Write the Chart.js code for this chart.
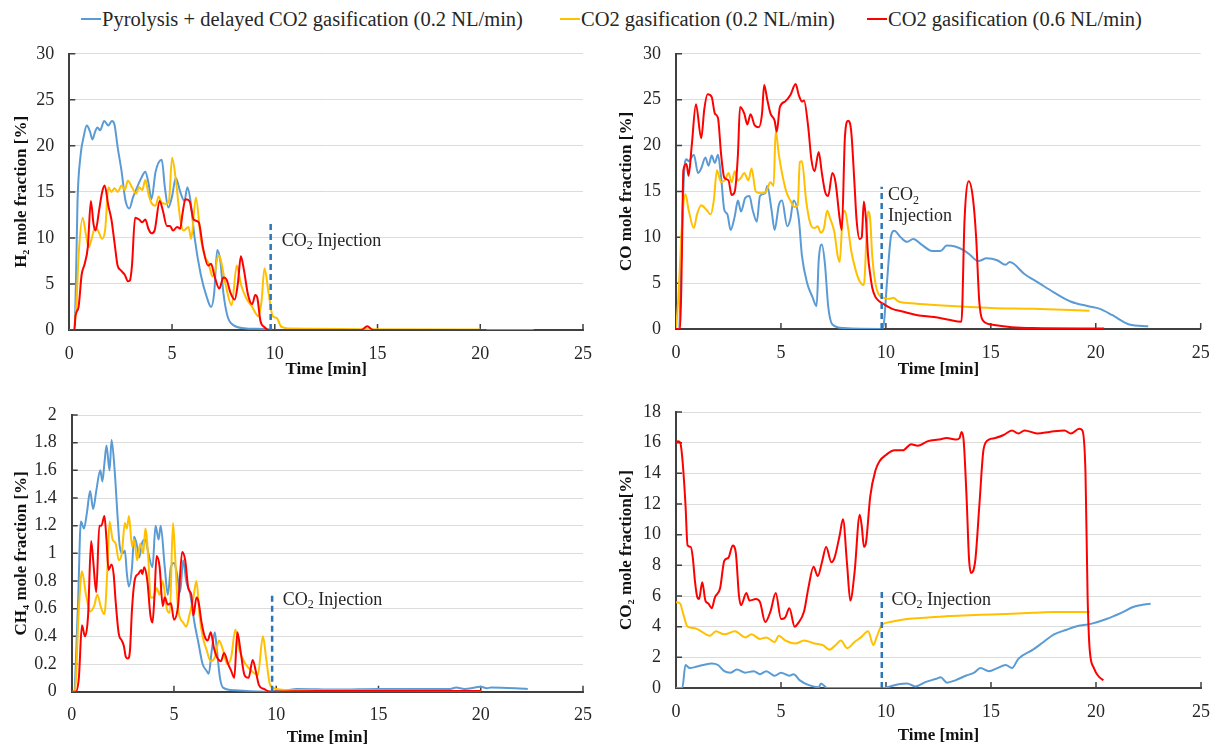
<!DOCTYPE html>
<html>
<head>
<meta charset="utf-8">
<script src="https://cdn.jsdelivr.net/npm/chart.js@4/dist/chart.umd.min.js"></script>
<style>
  html, body { margin: 0; padding: 0; background: #fff; }
  body { width: 1223px; height: 751px; position: relative; overflow: hidden;
         font-family: "Liberation Serif", "Times New Roman", serif; }
  canvas { position: absolute; }
  .key { position: absolute; top: 6px; height: 26px; display: flex; align-items: center;
         font-size: 20.5px; color: #262626; white-space: nowrap; }
  .key i { display: inline-block; width: 20px; height: 2px; margin-right: 1px; }
</style>
</head>
<body>
<div class="key" style="left:81px"><i style="background:#5B9BD5"></i>Pyrolysis + delayed CO2 gasification (0.2 NL/min)</div>
<div class="key" style="left:560px"><i style="background:#FFC000"></i>CO2 gasification (0.2 NL/min)</div>
<div class="key" style="left:867px"><i style="background:#FF0000"></i>CO2 gasification (0.6 NL/min)</div>

<canvas id="h2"></canvas>
<canvas id="co"></canvas>
<canvas id="ch4"></canvas>
<canvas id="co2"></canvas>

<script>
// ---- Series: [time (min), mole fraction (%)] ----
const seriesNames = [
  'Pyrolysis + delayed CO2 gasification (0.2 NL/min)',
  'CO2 gasification (0.2 NL/min)',
  'CO2 gasification (0.6 NL/min)'
];
const timeTicks = [0, 5, 10, 15, 20, 25];
const injectionTime = 9.8;

// H2
const h2Pyrolysis = [[0,0],[0.25,0],[0.32,5],[0.4,14],[0.55,19],[0.7,21],[0.85,22.2],[1.0,21.6],[1.13,20.7],[1.25,21.5],[1.37,22.0],[1.5,21.7],[1.7,22.7],[1.9,22.2],[2.07,22.7],[2.2,22.3],[2.35,19.9],[2.54,17.3],[2.73,14.1],[2.92,13.2],[3.1,14.4],[3.3,15.5],[3.5,16.5],[3.7,17.2],[3.85,16],[4.0,14.2],[4.2,17.2],[4.5,18.5],[4.65,15.5],[4.82,13.3],[5.0,14.5],[5.18,16.5],[5.4,15],[5.6,14],[5.75,15.5],[5.9,14],[6.1,10],[6.4,6],[6.7,3.5],[6.9,2.5],[7.05,4],[7.2,8.7],[7.35,7.5],[7.5,4],[7.7,1.5],[8.0,0.5],[8.5,0.2],[9.5,0.1],[10,0],[22.6,0]];
const h2Low = [[0,0],[0.2,0],[0.35,3],[0.45,8],[0.65,12.2],[0.8,10.5],[0.94,9.0],[1.1,10],[1.25,11.2],[1.4,10.8],[1.6,9.9],[1.75,11],[1.9,15.5],[2.05,15],[2.2,15.4],[2.35,15],[2.55,15.7],[2.7,15.2],[2.85,16.2],[3.05,15.5],[3.25,14.8],[3.4,15.5],[3.55,15.2],[3.7,16.3],[3.85,14.8],[4.0,13.8],[4.2,13.5],[4.35,14.5],[4.5,13.8],[4.7,13.7],[4.85,14],[5.0,18.7],[5.2,16],[5.4,12],[5.56,10.8],[5.8,11.2],[5.93,9.9],[6.16,14.4],[6.4,9.9],[6.6,8],[6.78,7.2],[6.97,5.8],[7.1,6.5],[7.25,8.1],[7.35,7.8],[7.6,5],[7.9,2.7],[8.15,7],[8.35,5],[8.6,3.5],[8.9,2.5],[9.2,1.5],[9.35,3],[9.5,6.7],[9.7,4],[9.9,1.5],[10.1,1.3],[10.3,0.4],[10.8,0.15],[20,0.05]];
const h2High = [[0,0],[0.25,0],[0.3,1.5],[0.45,2.5],[0.6,6],[0.75,7.2],[0.9,9],[1.05,14],[1.18,11.5],[1.28,10.8],[1.45,13],[1.6,15],[1.72,15.7],[1.9,13.5],[2.05,12],[2.2,9.5],[2.35,7],[2.5,6.5],[2.7,6],[2.85,5.3],[2.95,5.4],[3.05,7],[3.2,12.2],[3.4,12],[3.55,11.7],[3.7,12],[3.85,11],[4.0,10.5],[4.15,10.8],[4.4,14],[4.55,13],[4.75,11.3],[4.9,11.3],[5.05,10.8],[5.25,11.2],[5.4,11],[5.5,12.5],[5.65,14.2],[5.85,14],[6.05,12],[6.3,11.7],[6.5,9],[6.75,7],[6.9,7.2],[7.05,6],[7.3,4.5],[7.5,5.7],[7.65,5.5],[7.85,4],[8.05,3.3],[8.2,5],[8.35,8],[8.5,6.5],[8.7,3.8],[8.9,2.8],[9.05,3.8],[9.15,3.5],[9.3,1],[9.5,0.3],[9.7,0],[14.2,0],[14.5,0.4],[14.8,0],[20.3,0]];

// CO
const coPyrolysis = [[0,0],[0.15,0],[0.25,8],[0.4,17.5],[0.5,18.5],[0.6,18.3],[0.85,19],[1.05,17],[1.2,17.5],[1.4,18.7],[1.55,17.8],[1.7,18.9],[1.85,18.1],[2.0,19],[2.15,16.5],[2.3,13],[2.45,12.5],[2.6,10.8],[2.8,12.3],[2.95,14],[3.1,12.8],[3.3,14.3],[3.5,14.5],[3.65,13],[3.85,11.7],[4.0,14.5],[4.25,14.8],[4.35,15.6],[4.55,13],[4.7,10.8],[4.9,13.5],[5.05,14],[5.3,11.2],[5.45,12],[5.6,14],[5.85,12],[6.0,8],[6.25,5],[6.5,3.5],[6.7,2.5],[6.8,7.5],[6.95,9.2],[7.1,7],[7.25,2.5],[7.45,0.5],[8.0,0.1],[9.8,0],[9.9,0.5],[10.05,5],[10.25,10.2],[10.4,10.7],[10.7,10],[11.0,9.5],[11.3,9.8],[11.7,9.2],[12.2,8.5],[12.6,8.5],[12.9,9.1],[13.3,9],[13.7,8.6],[14.0,8.1],[14.4,7.4],[14.8,7.7],[15.3,7.5],[15.7,7],[15.9,7.3],[16.6,6],[17.3,5],[18.0,4],[18.8,3],[19.6,2.5],[20.2,2.2],[20.8,1.5],[21.6,0.5],[22.5,0.3]];
const coLow = [[0,0],[0.1,3],[0.18,6.5],[0.3,12],[0.45,14.7],[0.6,13],[0.85,11],[1.0,12.5],[1.2,13.5],[1.45,13],[1.65,12.5],[1.8,14],[1.95,17.3],[2.15,16],[2.35,16.3],[2.5,17],[2.65,16],[2.8,17.2],[2.95,16.2],[3.1,16.5],[3.25,17],[3.45,16.2],[3.6,17.5],[3.8,15],[4.1,14.8],[4.3,15],[4.5,16],[4.65,15.6],[4.75,21.6],[4.9,19],[5.05,17],[5.25,15],[5.45,14],[5.65,13.3],[5.8,13.5],[5.9,18.2],[6.0,18.3],[6.2,14],[6.4,11.5],[6.6,11],[6.75,11.2],[6.9,10.5],[7.05,11],[7.2,12.9],[7.35,12],[7.55,10.5],[7.7,8],[7.8,7.3],[7.95,12.5],[8.05,12.9],[8.2,11],[8.35,8.5],[8.55,6.5],[8.75,5.2],[8.95,4.8],[9.15,12.8],[9.25,12],[9.35,8],[9.5,5],[9.65,3.8],[9.9,3.4],[10.2,3.3],[10.35,3.4],[10.6,3],[11.2,2.8],[12.5,2.6],[14,2.4],[15,2.3],[17,2.2],[19.7,2.0]];
const coHigh = [[0,0],[0.2,0],[0.28,8],[0.35,17.3],[0.5,18],[0.6,16.7],[0.75,20],[0.95,24.5],[1.2,20.8],[1.35,24],[1.5,25.6],[1.7,25.3],[1.85,23.5],[2.0,23],[2.15,19],[2.3,16.5],[2.5,16.2],[2.65,14.6],[2.8,15],[2.95,19],[3.05,24.2],[3.25,23.5],[3.4,22.3],[3.55,23.4],[3.75,22.2],[3.95,22],[4.1,23.5],[4.2,26.6],[4.35,25],[4.5,23.5],[4.7,22.7],[4.8,21.5],[4.95,24.2],[5.2,24.8],[5.45,25.5],[5.7,26.7],[5.85,25.5],[6.0,24.8],[6.1,24.9],[6.3,22],[6.45,18.5],[6.6,17.2],[6.8,19.3],[6.95,17],[7.1,15],[7.25,14.5],[7.45,17],[7.6,16],[7.8,12],[7.9,10.8],[8.05,21],[8.2,22.7],[8.35,21.5],[8.5,16],[8.6,12],[8.75,9.8],[8.85,10],[8.95,13.9],[9.05,12],[9.15,8],[9.25,6],[9.35,4.5],[9.5,3.5],[9.7,3],[9.9,2.7],[10.3,2.2],[10.8,1.9],[11.5,1.5],[12.3,1.3],[13.0,1.0],[13.6,0.8],[13.75,12],[13.95,16.1],[14.15,14.2],[14.3,10],[14.45,3],[14.6,1],[15.0,0.5],[16,0.2],[17,0.1],[20.4,0.05]];

// CH4
const ch4Pyrolysis = [[0,0],[0.1,0],[0.3,0.6],[0.45,1.23],[0.6,1.18],[0.75,1.3],[0.9,1.45],[1.05,1.32],[1.2,1.45],[1.4,1.6],[1.5,1.52],[1.6,1.65],[1.7,1.78],[1.85,1.6],[1.95,1.82],[2.1,1.6],[2.25,1.25],[2.35,1.05],[2.5,1.0],[2.6,1.02],[2.7,0.85],[2.8,0.76],[2.95,0.9],[3.05,1.12],[3.2,1.05],[3.3,0.97],[3.45,1.08],[3.6,1.1],[3.75,1.0],[3.95,0.9],[4.1,1.2],[4.25,1.1],[4.35,1.2],[4.55,0.9],[4.7,0.7],[4.85,0.9],[5.0,0.93],[5.15,0.85],[5.3,0.72],[5.45,0.95],[5.6,0.8],[5.8,0.7],[6.0,0.5],[6.2,0.35],[6.4,0.2],[6.6,0.15],[6.7,0.13],[6.85,0.3],[7.0,0.43],[7.1,0.3],[7.25,0.1],[7.4,0.03],[8,0.01],[9.5,0],[10.5,0.01],[11,0.02],[13,0.015],[15,0.02],[18.5,0.02],[18.8,0.03],[19.2,0.02],[20.0,0.035],[20.3,0.025],[20.5,0.03],[22.3,0.02]];
const ch4Low = [[0,0],[0.15,0],[0.35,0.6],[0.5,0.87],[0.7,0.7],[0.9,0.58],[1.1,0.62],[1.25,0.7],[1.45,0.6],[1.6,0.56],[1.75,0.9],[1.85,1.23],[2.0,1.1],[2.15,1.07],[2.3,0.95],[2.45,1.0],[2.6,1.22],[2.7,1.18],[2.8,1.27],[2.95,1.05],[3.05,1.1],[3.2,0.95],[3.35,1.07],[3.5,1.0],[3.6,1.18],[3.75,0.95],[3.85,0.68],[4.0,0.68],[4.15,0.75],[4.3,0.7],[4.45,0.8],[4.65,0.6],[4.8,0.57],[4.95,1.22],[5.05,1.0],[5.2,0.6],[5.45,0.5],[5.6,0.47],[5.75,0.55],[5.95,0.68],[6.1,0.8],[6.25,0.55],[6.4,0.4],[6.6,0.3],[6.8,0.22],[7.0,0.25],[7.2,0.37],[7.4,0.3],[7.6,0.2],[7.8,0.25],[8.0,0.45],[8.2,0.3],[8.5,0.2],[8.8,0.15],[9.1,0.12],[9.35,0.4],[9.5,0.25],[9.7,0.05],[10,0.02],[11,0.01],[20,0.005]];
const ch4High = [[0,0],[0.2,0],[0.35,0.1],[0.5,0.48],[0.65,0.4],[0.8,0.55],[0.95,1.09],[1.05,0.95],[1.2,0.72],[1.35,1.2],[1.45,1.2],[1.6,1.27],[1.7,1.1],[1.8,0.88],[1.95,0.92],[2.05,0.85],[2.15,0.65],[2.3,0.42],[2.45,0.37],[2.55,0.33],[2.65,0.25],[2.75,0.24],[2.85,0.3],[2.95,0.6],[3.1,0.82],[3.25,0.85],[3.4,0.88],[3.45,0.85],[3.55,0.9],[3.7,0.8],[3.85,0.55],[3.95,0.5],[4.05,0.7],[4.15,0.98],[4.3,0.9],[4.45,0.62],[4.55,0.68],[4.7,0.63],[4.85,0.64],[5.0,0.52],[5.2,0.62],[5.4,1.01],[5.55,0.95],[5.7,0.75],[5.85,0.7],[5.95,0.55],[6.1,0.68],[6.2,0.65],[6.35,0.5],[6.5,0.4],[6.65,0.37],[6.8,0.43],[6.95,0.32],[7.1,0.25],[7.3,0.22],[7.45,0.28],[7.65,0.2],[7.8,0.15],[7.95,0.1],[8.1,0.43],[8.25,0.3],[8.45,0.12],[8.65,0.1],[8.85,0.23],[9.0,0.15],[9.15,0.05],[9.4,0.02],[9.7,0],[12,0.005],[20,0.005]];

// CO2
const co2Pyrolysis = [[0,0],[0.3,0],[0.45,1.5],[0.65,1.3],[1.0,1.4],[1.3,1.5],[1.7,1.6],[2.0,1.5],[2.3,1.1],[2.6,1.0],[2.9,1.2],[3.3,1.0],[3.7,1.1],[4.0,0.9],[4.3,1.1],[4.7,0.8],[5.0,1.0],[5.4,0.8],[5.6,0.9],[5.9,0.5],[6.3,0.2],[6.8,0.05],[6.9,0.3],[7.2,0],[9.9,0],[10.2,0.1],[10.6,0.25],[11.0,0.3],[11.4,0.1],[11.9,0.4],[12.4,0.6],[12.6,0.7],[12.9,0.35],[13.3,0.5],[13.8,0.8],[14.2,1.0],[14.5,1.3],[14.9,1.1],[15.3,1.3],[15.7,1.5],[16.0,1.3],[16.3,1.9],[17.0,2.5],[17.5,3.0],[18.0,3.5],[18.6,3.8],[19.0,4.0],[19.8,4.2],[20.5,4.5],[21.2,4.9],[21.8,5.3],[22.3,5.45],[22.6,5.5]];
const co2Low = [[0,5.6],[0.2,5.5],[0.35,4.8],[0.55,4],[0.9,3.9],[1.2,3.7],[1.6,3.4],[1.9,3.7],[2.3,3.5],[2.8,3.7],[3.3,3.3],[3.6,3.5],[4.0,3.2],[4.3,3.3],[4.7,3.0],[4.9,3.4],[5.2,3.1],[5.7,2.9],[6.1,3.1],[6.6,2.9],[7.0,2.8],[7.3,2.5],[7.6,2.8],[7.85,3.1],[8.15,2.6],[8.5,3.0],[8.8,3.3],[9.15,3.7],[9.4,2.8],[9.55,3.3],[9.8,4.1],[10.2,4.3],[11,4.5],[12,4.6],[13,4.7],[14,4.75],[15,4.8],[16,4.85],[17,4.9],[18,4.95],[19.7,4.95]];
const co2High = [[0,16],[0.1,16.1],[0.2,16],[0.3,15],[0.45,12],[0.55,9.3],[0.7,9.2],[0.8,8.5],[0.9,7],[1.0,6],[1.1,5.8],[1.25,6.9],[1.4,5.7],[1.55,5.5],[1.7,5.2],[1.85,5.9],[2.1,6.5],[2.3,8.3],[2.5,8.5],[2.7,9.3],[2.85,8.8],[3.0,6],[3.1,5.4],[3.35,6.2],[3.5,5.7],[3.8,5.8],[4.0,5.6],[4.25,4.3],[4.5,5],[4.75,6.2],[5.0,4.5],[5.2,4.6],[5.4,5.2],[5.65,4],[5.8,4.2],[6.1,5],[6.3,6.5],[6.55,7.9],[6.75,7.3],[6.95,8.2],[7.15,9.2],[7.4,8.2],[7.55,8.5],[7.8,10],[7.95,11],[8.15,8],[8.3,5.7],[8.5,7.5],[8.75,11.3],[8.85,10.5],[8.95,9.2],[9.05,9.5],[9.25,12.5],[9.5,14.2],[9.7,14.8],[10.0,15.2],[10.4,15.5],[10.8,15.5],[11.2,15.9],[11.5,15.8],[12.0,16.1],[12.5,16.2],[12.9,16.3],[13.3,16.2],[13.5,16.3],[13.6,16.7],[13.7,16.1],[13.85,12],[13.95,8.5],[14.05,7.5],[14.25,8.3],[14.45,12],[14.65,15.6],[14.9,16.2],[15.2,16.3],[15.6,16.5],[16.0,16.8],[16.3,16.6],[16.6,16.8],[17.2,16.6],[17.8,16.7],[18.5,16.8],[18.8,16.6],[19.2,16.9],[19.35,16.8],[19.5,14],[19.6,6],[19.7,2.5],[19.9,1.3],[20.1,0.8],[20.35,0.5]];

// Height of the dashed CO2-injection marker in each panel
const h2InjectionTop = 11.5;
const coInjectionTop = 15.5;
const ch4InjectionTop = 0.72;
const co2InjectionTop = 6.3;

// ---- Styling ----
const FONT = '"Liberation Serif", "Times New Roman", serif';
const COLORS = ['#5B9BD5', '#FFC000', '#FF0000'];
const AXIS_COLOR = '#404040';
const TEXT_COLOR = '#262626';
Chart.defaults.font.family = FONT;
Chart.defaults.color = TEXT_COLOR;

// Draws text where "₂"/"₄" become lowered small digits
function drawRich(ctx, text, x, y, size) {
  const parts = text.split(/([₂₄])/);
  let cx = x;
  parts.forEach(p => {
    if (!p) return;
    if (p === '₂' || p === '₄') {
      ctx.font = `${Math.round(size * 0.65)}px ${FONT}`;
      const d = p === '₂' ? '2' : '4';
      ctx.fillText(d, cx, y + size * 0.28);
      cx += ctx.measureText(d).width;
    } else {
      ctx.font = `${size}px ${FONT}`;
      ctx.fillText(p, cx, y);
      cx += ctx.measureText(p).width;
    }
  });
}

// Inward tick marks on both axes and the injection caption
const panelDecor = {
  id: 'panelDecor',
  beforeDatasetsDraw(chart, args, opts) {
    const { ctx, chartArea: a, scales: { x, y } } = chart;
    ctx.save();
    ctx.strokeStyle = AXIS_COLOR;
    ctx.lineWidth = 1.5;
    ctx.beginPath();
    y.ticks.forEach(t => {
      const py = y.getPixelForValue(t.value);
      ctx.moveTo(a.left, py); ctx.lineTo(a.left + 6, py);
    });
    x.ticks.forEach(t => {
      const px = x.getPixelForValue(t.value);
      ctx.moveTo(px, a.bottom); ctx.lineTo(px, a.bottom - 6);
    });
    ctx.stroke();
    ctx.restore();
  },
  afterDatasetsDraw(chart, args, opts) {
    if (!opts.lines) return;
    const { ctx, scales: { x, y } } = chart;
    ctx.save();
    ctx.fillStyle = TEXT_COLOR;
    ctx.textBaseline = 'middle';
    ctx.textAlign = 'left';
    const px = x.getPixelForValue(opts.t);
    const py = y.getPixelForValue(opts.v);
    opts.lines.forEach((line, i) => drawRich(ctx, line, px, py + i * 20.5, 18));
    ctx.restore();
  }
};

const toXY = arr => arr.map(([t, v]) => ({ x: t, y: v }));

const panels = [
  { id: 'h2', box: [0, 28, 605, 354], area: [69.3, 53, 594.3, 330],
    yMax: 30, yStep: 5, yTitle: 'H₂ mole fraction [%]', xTitlePad: 2,
    series: [h2Pyrolysis, h2Low, h2High], markTop: h2InjectionTop,
    caption: { t: 10.34, v: 9.64, lines: ['CO₂ Injection'] } },
  { id: 'co', box: [605, 28, 618, 354], area: [676, 53, 1200.7, 329],
    yMax: 30, yStep: 5, yTitle: 'CO mole fraction [%]', xTitlePad: 2,
    series: [coPyrolysis, coLow, coHigh], markTop: coInjectionTop,
    caption: { t: 10.1, v: 14.57, lines: ['CO₂', 'Injection'] } },
  { id: 'ch4', box: [0, 385, 605, 366], area: [71.7, 415, 597.5, 691.7],
    yMax: 2, yStep: 0.2, yTitle: 'CH₄ mole fraction [%]', xTitlePad: 3,
    series: [ch4Pyrolysis, ch4Low, ch4High], markTop: ch4InjectionTop,
    caption: { t: 10.32, v: 0.663, lines: ['CO₂ Injection'] } },
  { id: 'co2', box: [605, 385, 618, 366], area: [676, 412, 1202, 688],
    yMax: 18, yStep: 2, yTitle: 'CO₂ mole fraction[%]', xTitlePad: 5,
    series: [co2Pyrolysis, co2Low, co2High], markTop: co2InjectionTop,
    caption: { t: 10.26, v: 5.74, lines: ['CO₂ Injection'] } }
];

panels.forEach(p => {
  const [bx, by, bw, bh] = p.box;
  const [al, at, ar, ab] = p.area;
  const cv = document.getElementById(p.id);
  cv.width = bw; cv.height = bh;
  cv.style.left = bx + 'px'; cv.style.top = by + 'px';
  cv.style.width = bw + 'px'; cv.style.height = bh + 'px';

  const datasets = p.series.map((s, i) => ({
    label: seriesNames[i],
    data: toXY(s),
    borderColor: COLORS[i],
    borderWidth: 2,
    pointRadius: 0,
    cubicInterpolationMode: 'monotone',
    order: 3 - i
  }));
  datasets.push({
    label: 'CO2 injection',
    data: toXY([[injectionTime, 0], [injectionTime, p.markTop]]),
    borderColor: '#2E75B6',
    borderWidth: 2.5,
    borderDash: [6, 4],
    pointRadius: 0,
    tension: 0,
    order: 0
  });

  new Chart(cv, {
    type: 'line',
    data: { datasets },
    plugins: [panelDecor],
    options: {
      responsive: false,
      animation: false,
      events: [],
      layout: { padding: { top: at - by, right: bx + bw - ar, left: 0, bottom: 0 } },
      plugins: {
        legend: { display: false },
        tooltip: { enabled: false },
        panelDecor: p.caption
      },
      scales: {
        x: {
          type: 'linear', min: 0, max: 25,
          afterBuildTicks: s => { s.ticks = timeTicks.map(v => ({ value: v })); },
          afterFit: s => { s.height = by + bh - ab; },
          grid: { display: false, drawTicks: false },
          border: { display: true, color: AXIS_COLOR, width: 2 },
          ticks: { padding: 13, maxRotation: 0, autoSkip: false,
                   font: { family: FONT, size: 18 }, color: TEXT_COLOR },
          title: { display: true, text: 'Time [min]', color: '#111',
                   font: { family: FONT, size: 17, weight: 'bold' },
                   padding: { top: 0, bottom: p.xTitlePad } }
        },
        y: {
          min: 0, max: p.yMax,
          afterFit: s => { s.width = al - bx; },
          grid: { color: '#DCDCDC', lineWidth: 1, drawTicks: false },
          border: { display: true, color: AXIS_COLOR, width: 2 },
          ticks: { stepSize: p.yStep, padding: 15, font: { family: FONT, size: 18 }, color: TEXT_COLOR,
                   callback: v => String(+v.toFixed(1)) },
          title: { display: true, text: p.yTitle, color: '#111',
                   font: { family: FONT, size: 17, weight: 'bold' },
                   padding: { top: 11, bottom: 0 } }
        }
      }
    }
  });
});
</script>
</body>
</html>
